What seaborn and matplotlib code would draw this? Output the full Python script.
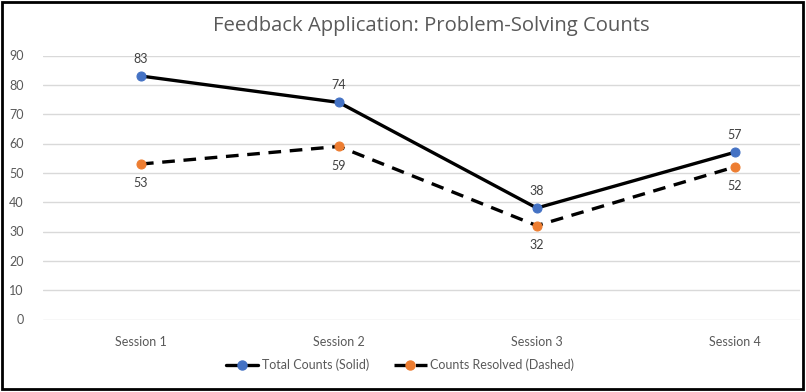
import matplotlib
matplotlib.use("Agg")
import matplotlib.pyplot as plt
from matplotlib.patches import Rectangle
from matplotlib.lines import Line2D
import seaborn as sns
import pandas as pd

sessions = ["Session 1", "Session 2", "Session 3", "Session 4"]
total_counts = [83, 74, 38, 57]
counts_resolved = [53, 59, 32, 52]
yticks = [0, 10, 20, 30, 40, 50, 60, 70, 80, 90]
title = "Feedback Application: Problem-Solving Counts"
label_total = "Total Counts (Solid)"
label_resolved = "Counts Resolved (Dashed)"

sns.set_theme(style="white")
plt.rcParams['font.family'] = ['Lato', 'DejaVu Sans']

BLUE = "#4472C4"
ORANGE = "#ED7D31"
GRAY = "#595959"

W, H = 806, 392
fig = plt.figure(figsize=(W / 100, H / 100), dpi=100)
ax = fig.add_axes([43 / W, 1 - 319.5 / H, (800 - 43) / W, (319.5 - 55.5) / H])

df = pd.DataFrame({"Session": sessions, "Total": total_counts, "Resolved": counts_resolved})

sns.lineplot(data=df, x="Session", y="Total", ax=ax, sort=False, color="black",
             linewidth=2.4, marker="o", markersize=6.5, markerfacecolor=BLUE,
             markeredgecolor=BLUE, zorder=3)
sns.lineplot(data=df, x="Session", y="Resolved", ax=ax, sort=False, color="black",
             linewidth=2.4, marker="o", markersize=6.5, markerfacecolor=ORANGE,
             markeredgecolor=ORANGE, zorder=3, dashes=False)
ax.lines[1].set_dashes((3.8, 2.6))

for i, v in enumerate(total_counts):
    ax.annotate(str(v), (i, v), xytext=(0, 12.5), textcoords="offset points",
                ha="center", va="center", fontsize=9, color="#404040")
for i, v in enumerate(counts_resolved):
    ax.annotate(str(v), (i, v), xytext=(0, -14), textcoords="offset points",
                ha="center", va="center", fontsize=9, color="#404040")

ax.set_xlim(-0.495, 3.33)
ax.set_ylim(0, 90)
ax.set_yticks(yticks)
ax.grid(axis="y", color="#D9D9D9", linewidth=1)
ax.set_axisbelow(True)
for s in ax.spines.values():
    s.set_visible(False)
ax.tick_params(axis="both", length=0, labelsize=9, labelcolor=GRAY)
ax.tick_params(axis="y", pad=14)
ax.tick_params(axis="x", pad=12)
ax.set_xlabel("")
ax.set_ylabel("")

fig.text(431 / W, 1 - 25.5 / H, title, ha="center", va="center", fontsize=14.6,
         color=GRAY, family=["Open Sans", "DejaVu Sans"])

handles = [
    Line2D([], [], color="black", linewidth=2.4, marker="o", markersize=6.5,
           markerfacecolor=BLUE, markeredgecolor=BLUE),
    Line2D([], [], color="black", linewidth=2.4, marker="o", markersize=6.5,
           markerfacecolor=ORANGE, markeredgecolor=ORANGE, dashes=(3.8, 2.6)),
]
fig.legend(handles, [label_total, label_resolved], loc="center",
           bbox_to_anchor=(400 / W, 1 - 365 / H), ncol=2, frameon=False,
           fontsize=9, labelcolor=GRAY, handlelength=2.6, handletextpad=0.3,
           columnspacing=2.0)

fig.patches.append(Rectangle((1.5 / W, 1 - 388.5 / H), 801 / W, 387 / H,
                             transform=fig.transFigure, fill=False,
                             edgecolor="black", linewidth=2))

fig.savefig("out.png", dpi=100)
